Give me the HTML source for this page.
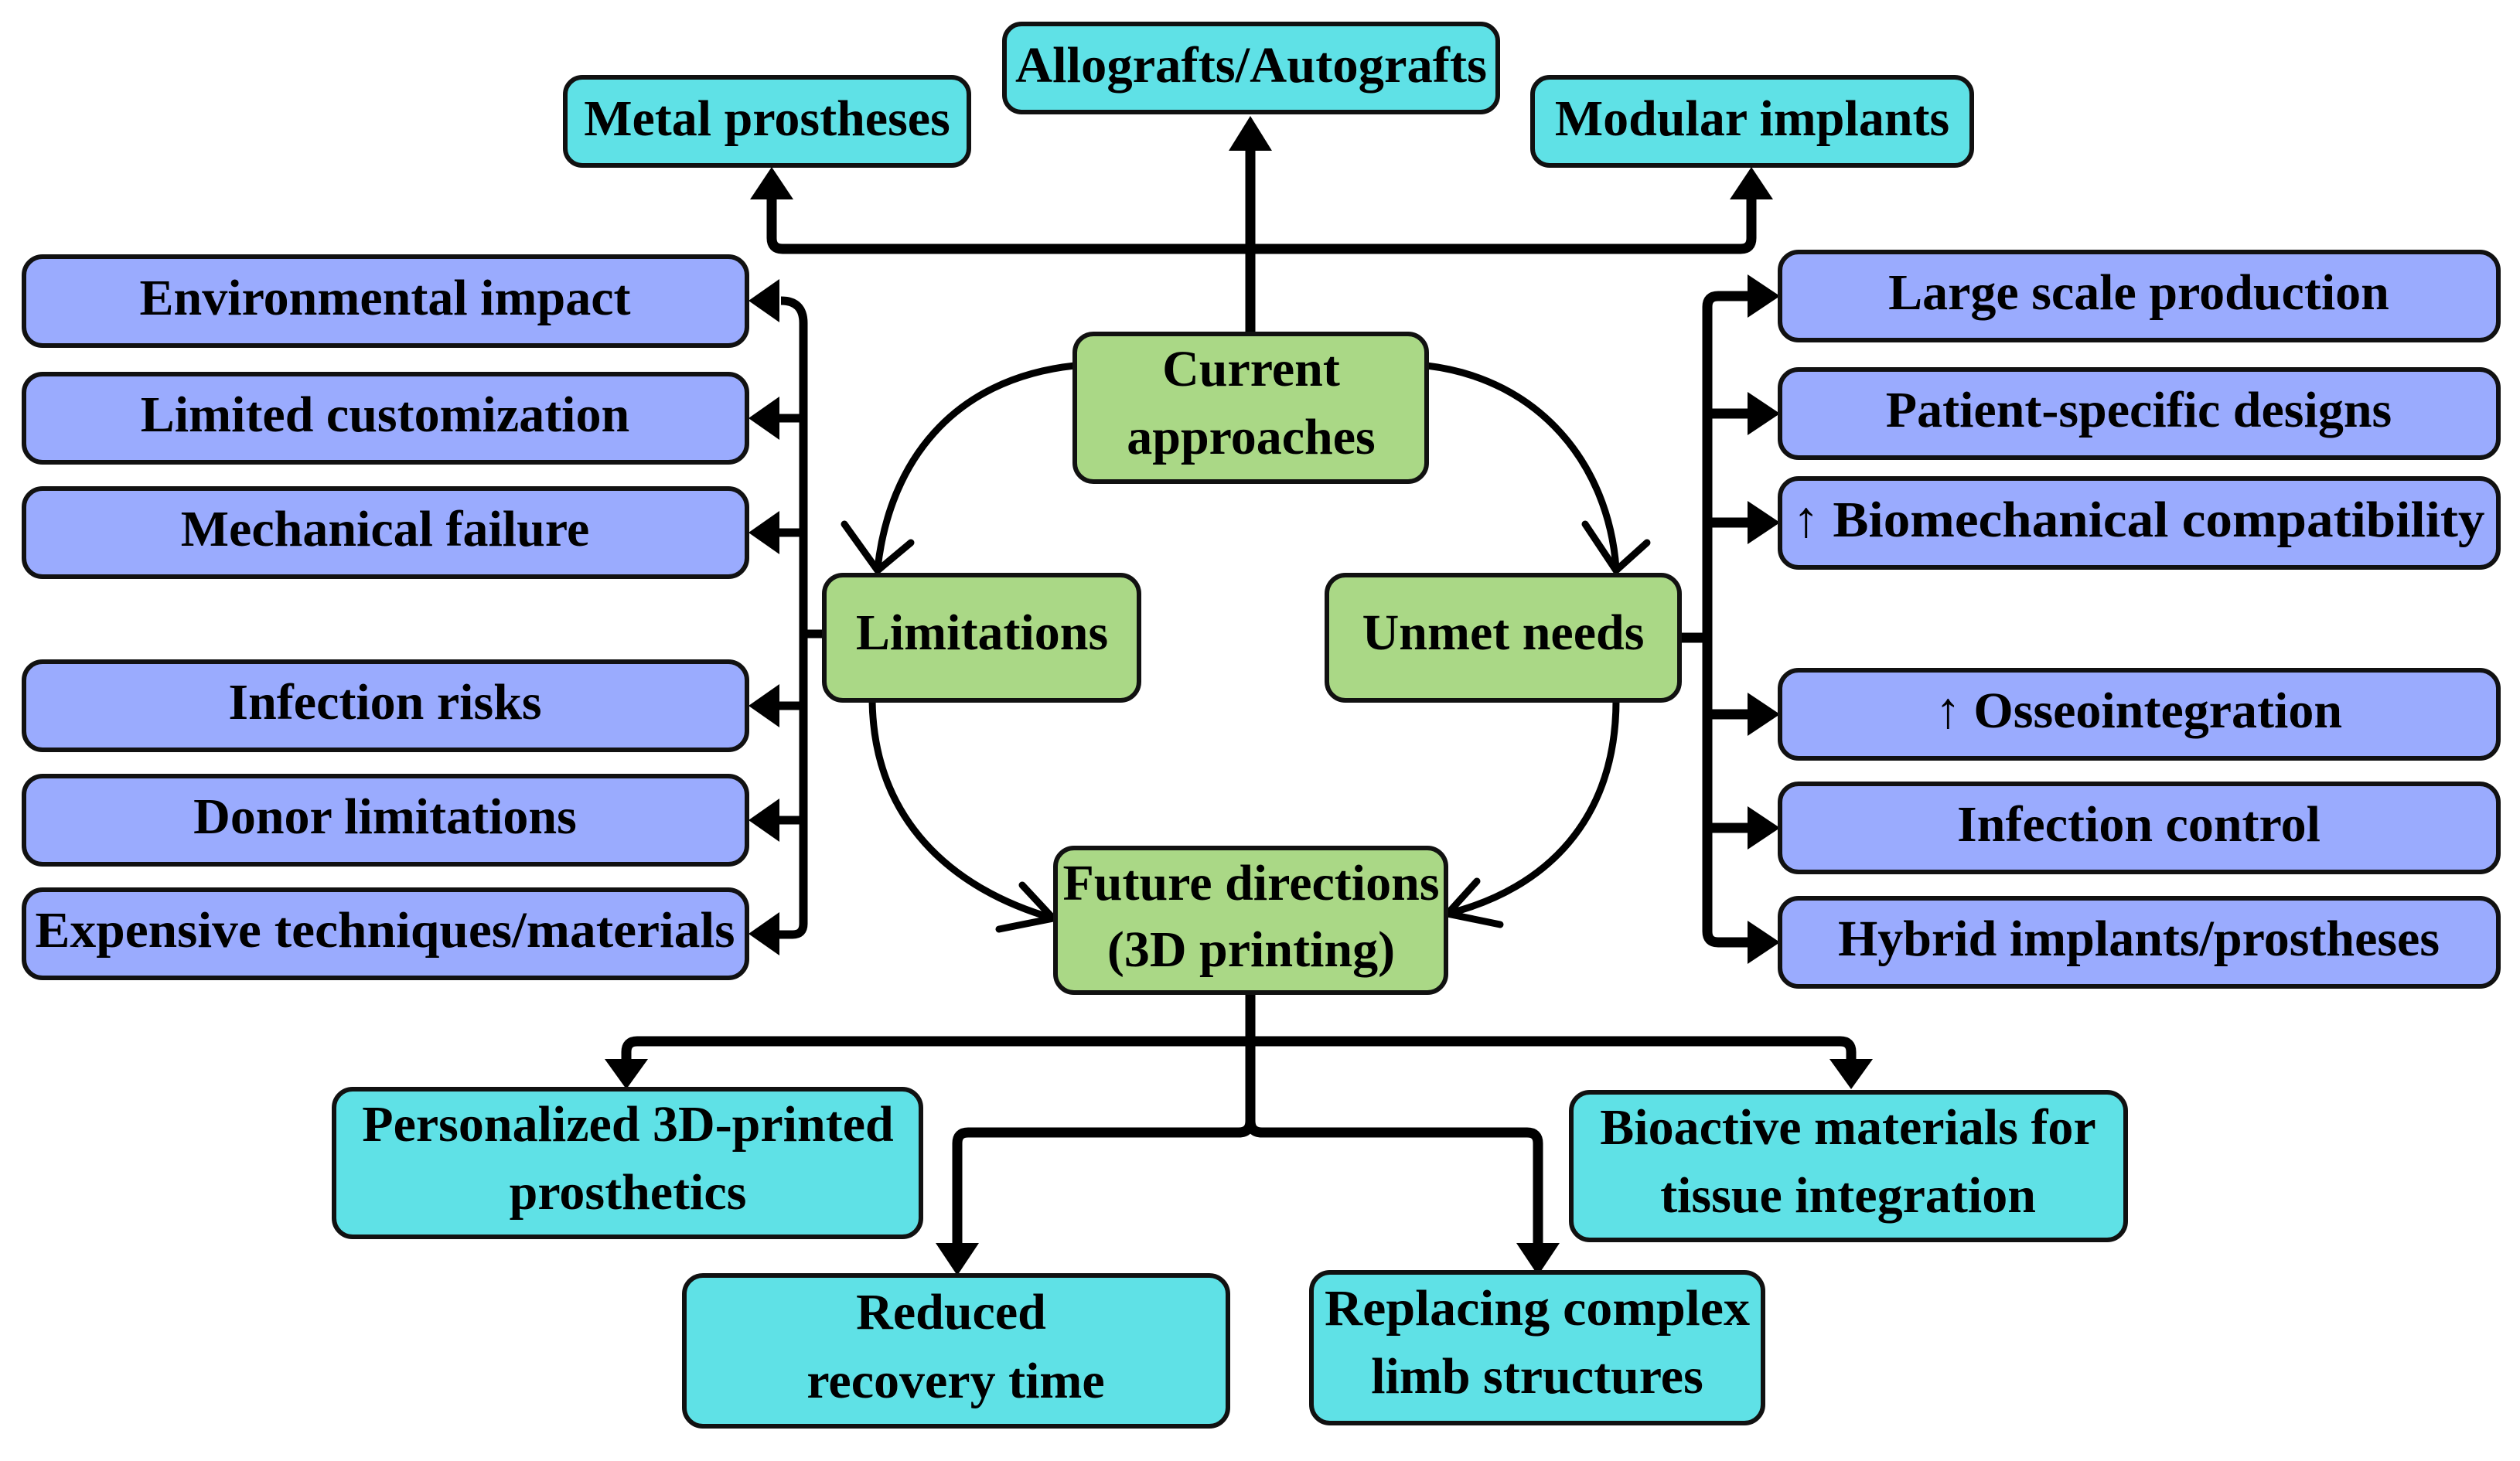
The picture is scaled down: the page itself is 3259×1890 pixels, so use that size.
<!DOCTYPE html>
<html><head><meta charset="utf-8"><style>
html,body{margin:0;padding:0;background:#fff;}
svg{display:block;}
text{font-family:"Liberation Serif",serif;font-weight:bold;font-size:66px;fill:#000;text-anchor:middle;}
.c{fill:#5fe1e6;stroke:#111;stroke-width:6;}
.b{fill:#9aabfe;stroke:#111;stroke-width:6;}
.g{fill:#aad886;stroke:#111;stroke-width:6;}
.l{fill:none;stroke:#000;stroke-width:13;stroke-linejoin:round;}
.t{fill:none;stroke:#000;stroke-width:9;stroke-linecap:round;}
</style></head><body>
<svg width="3259" height="1890" viewBox="0 0 3259 1890" xmlns="http://www.w3.org/2000/svg">
<path class="l" d="M1617 432 V190"/>
<path class="l" d="M998 255 V308 q0 14 14 14 H2251 q14 0 14-14 V255"/>
<polygon points="1617,150 1589,195 1645,195"/>
<polygon points="998,216 970,258 1026,258"/>
<polygon points="2265,216 2237,258 2293,258"/>
<path class="l" style="stroke-width:11" d="M1010 389 q29 0 29 29 V1195 q0 14 -14 14 H1000"/>
<path class="l" style="stroke-width:11" d="M1039 820 H1066"/>
<g>
<path class="l" style="stroke-width:11" d="M1039 541 H1000 M1039 689 H1000 M1039 913 H1000 M1039 1061 H1000"/>
<polygon points="968,389 1008,361 1008,417"/>
<polygon points="968,541 1008,513 1008,569"/>
<polygon points="968,689 1008,661 1008,717"/>
<polygon points="968,913 1008,885 1008,941"/>
<polygon points="968,1061 1008,1033 1008,1089"/>
<polygon points="968,1208 1008,1180 1008,1236"/>
</g>
<path class="l" d="M2262 383 H2222 q-14 0 -14 14 V1205 q0 14 14 14 H2262"/>
<path class="l" d="M2172 825 H2208 M2208 535 H2262 M2208 676 H2262 M2208 924 H2262 M2208 1071 H2262"/>
<polygon points="2302,383 2260,355 2260,411"/>
<polygon points="2302,535 2260,507 2260,563"/>
<polygon points="2302,676 2260,648 2260,704"/>
<polygon points="2302,924 2260,896 2260,952"/>
<polygon points="2302,1071 2260,1043 2260,1099"/>
<polygon points="2302,1219 2260,1191 2260,1247"/>
<path class="t" d="M1390 473 C1230 490 1150 600 1135 735"/>
<path class="t" d="M1092 678 L1135 738 L1178 702"/>
<path class="t" d="M1845 473 C1990 490 2080 600 2090 735"/>
<path class="t" d="M2050 678 L2090 738 L2130 702"/>
<path class="t" d="M1128 906 C1130 1060 1230 1150 1362 1188"/>
<path class="t" d="M1322 1145 L1362 1188 L1292 1202"/>
<path class="t" d="M2090 906 C2090 1060 2000 1150 1872 1182"/>
<path class="t" d="M1910 1140 L1872 1182 L1940 1196"/>
<path class="l" d="M1617 1284 V1450"/>
<path class="l" d="M810 1380 V1361 q0 -14 14 -14 H2380 q14 0 14 14 V1380"/>
<path class="l" d="M1617 1450 q0 15 -15 15 H1252 q-14 0 -14 14 V1620 M1617 1450 q0 15 15 15 H1975 q14 0 14 14 V1620"/>
<polygon points="810,1409 782,1370 838,1370"/>
<polygon points="2394,1409 2366,1370 2422,1370"/>
<polygon points="1238,1650 1210,1608 1266,1608"/>
<polygon points="1989,1650 1961,1608 2017,1608"/>
<rect class="c" x="731" y="100" width="522" height="114" rx="22"/><text x="992" y="175">Metal prostheses</text>
<rect class="c" x="1299" y="31" width="638" height="114" rx="22"/><text x="1618" y="106" textLength="610" lengthAdjust="spacingAndGlyphs">Allografts/Autografts</text>
<rect class="c" x="1982" y="100" width="568" height="114" rx="22"/><text x="2266" y="175">Modular implants</text>
<rect class="b" x="31" y="332" width="935" height="115" rx="24"/><text x="498" y="407">Environmental impact</text>
<rect class="b" x="31" y="484" width="935" height="114" rx="24"/><text x="498" y="558">Limited customization</text>
<rect class="b" x="31" y="632" width="935" height="114" rx="24"/><text x="498" y="706">Mechanical failure</text>
<rect class="b" x="31" y="856" width="935" height="114" rx="24"/><text x="498" y="930">Infection risks</text>
<rect class="b" x="31" y="1004" width="935" height="114" rx="24"/><text x="498" y="1078">Donor limitations</text>
<rect class="b" x="31" y="1151" width="935" height="114" rx="24"/><text x="498" y="1225" textLength="905" lengthAdjust="spacingAndGlyphs">Expensive techniques/materials</text>
<rect class="b" x="2302" y="326" width="929" height="114" rx="24"/><text x="2766" y="400">Large scale production</text>
<rect class="b" x="2302" y="478" width="929" height="114" rx="24"/><text x="2766" y="552">Patient-specific designs</text>
<rect class="b" x="2302" y="619" width="929" height="115" rx="24"/><text x="2766" y="694" textLength="895" lengthAdjust="spacingAndGlyphs">↑ Biomechanical compatibility</text>
<rect class="b" x="2302" y="867" width="929" height="114" rx="24"/><text x="2766" y="941">↑ Osseointegration</text>
<rect class="b" x="2302" y="1014" width="929" height="114" rx="24"/><text x="2766" y="1088">Infection control</text>
<rect class="b" x="2302" y="1162" width="929" height="114" rx="24"/><text x="2766" y="1236">Hybrid implants/prostheses</text>
<rect class="g" x="1390" y="432" width="455" height="191" rx="24"/><text x="1618" y="499">Current</text><text x="1618" y="587">approaches</text>
<rect class="g" x="1066" y="744" width="407" height="162" rx="24"/><text x="1270" y="840">Limitations</text>
<rect class="g" x="1716" y="744" width="456" height="162" rx="24"/><text x="1944" y="840">Unmet needs</text>
<rect class="g" x="1365" y="1097" width="505" height="187" rx="24"/><text x="1618" y="1164">Future directions</text><text x="1618" y="1250">(3D printing)</text>
<rect class="c" x="432" y="1409" width="759" height="191" rx="24"/><text x="812" y="1476">Personalized 3D-printed</text><text x="812" y="1564">prosthetics</text>
<rect class="c" x="2032" y="1413" width="717" height="191" rx="24"/><text x="2390" y="1480">Bioactive materials for</text><text x="2390" y="1568">tissue integration</text>
<rect class="c" x="885" y="1650" width="703" height="195" rx="24"/><text x="1230" y="1719">Reduced</text><text x="1236" y="1808">recovery time</text>
<rect class="c" x="1696" y="1646" width="584" height="195" rx="24"/><text x="1988" y="1714" textLength="550" lengthAdjust="spacingAndGlyphs">Replacing complex</text><text x="1988" y="1802">limb structures</text>
</svg>
</body></html>
